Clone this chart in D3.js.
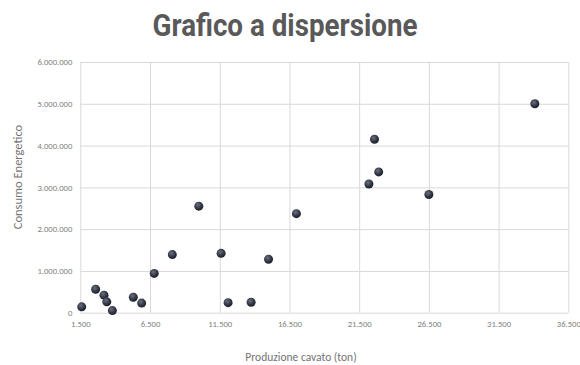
<!DOCTYPE html>
<html>
<head>
<meta charset="utf-8">
<script src="https://cdn.jsdelivr.net/npm/d3@7"></script>
<style>
  html, body { margin: 0; padding: 0; background: #ffffff; }
  svg { display: block; }
</style>
</head>
<body>
<svg id="chart" width="580" height="365"></svg>
<script>
// Produzione cavato (ton) per ciascuna cava
const produzione = [1600, 2600, 3200, 3400, 3800, 5300, 5900, 6800, 8100, 10000,
                    11600, 12100, 13750, 15000, 17000, 22200, 22600, 22900, 26500, 34100];
// Consumo energetico corrispondente
const consumo = [140000, 560000, 420000, 260000, 50000, 370000, 230000, 940000, 1390000, 2550000,
                 1420000, 240000, 250000, 1280000, 2370000, 3080000, 4150000, 3370000, 2830000, 5000000];
// Valori delle tacche degli assi
const xTicks = [1500, 6500, 11500, 16500, 21500, 26500, 31500, 36500];
const yTicks = [0, 1000000, 2000000, 3000000, 4000000, 5000000, 6000000];

const titolo = "Grafico a dispersione";
const titoloX = "Produzione cavato (ton)";
const titoloY = "Consumo Energetico";

const svg = d3.select("#chart");
const plot = { left: 80.3, right: 568.3, top: 62, bottom: 312.7 };

const x = d3.scaleLinear().domain([1500, 36500]).range([plot.left, plot.right]);
const y = d3.scaleLinear().domain([0, 6000000]).range([plot.bottom, plot.top]);

// Formato italiano: punto come separatore delle migliaia
const it = d3.formatLocale({ decimal: ",", thousands: ".", grouping: [3], currency: ["€", ""] });
const fmt = it.format(",d");

const gridColor = "#d9d9d9";
const labelColor = "#808080";
const fontFam = "Calibri, Carlito, 'Open Sans', 'Noto Sans', sans-serif";

// Griglia orizzontale
svg.append("g")
  .attr("transform", `translate(${plot.left},0)`)
  .call(d3.axisLeft(y).tickValues(yTicks).tickSize(-(plot.right - plot.left)).tickFormat(fmt).tickPadding(8))
  .call(g => g.select(".domain").remove())
  .call(g => g.selectAll(".tick line").attr("stroke", gridColor).attr("stroke-width", 1))
  .call(g => g.selectAll(".tick text").attr("fill", labelColor).style("font-family", fontFam).style("font-size", "8.6px"));

// Griglia verticale
svg.append("g")
  .attr("transform", `translate(0,${plot.bottom})`)
  .call(d3.axisBottom(x).tickValues(xTicks).tickSize(-(plot.bottom - plot.top)).tickFormat(fmt).tickPadding(8))
  .call(g => g.select(".domain").remove())
  .call(g => g.selectAll(".tick line").attr("stroke", gridColor).attr("stroke-width", 1))
  .call(g => g.selectAll(".tick text").attr("fill", labelColor).style("font-family", fontFam).style("font-size", "8.6px"));

// Sfumatura dei punti
const defs = svg.append("defs");
const grad = defs.append("radialGradient").attr("id", "dot").attr("cx", "40%").attr("cy", "35%").attr("r", "65%");
grad.append("stop").attr("offset", "0%").attr("stop-color", "#6b7080");
grad.append("stop").attr("offset", "60%").attr("stop-color", "#343846");
grad.append("stop").attr("offset", "100%").attr("stop-color", "#1c1f29");

const punti = produzione.map((p, i) => ({ p, c: consumo[i] }));
svg.append("g").selectAll("circle")
  .data(punti)
  .join("circle")
  .attr("cx", d => x(d.p))
  .attr("cy", d => y(d.c))
  .attr("r", 4.5)
  .attr("fill", "url(#dot)");

// Titolo
svg.append("text")
  .attr("x", 285).attr("y", 36)
  .attr("text-anchor", "middle")
  .attr("textLength", 265).attr("lengthAdjust", "spacingAndGlyphs")
  .attr("fill", "#595959")
  .style("font-family", "Roboto, 'Liberation Sans', sans-serif")
  .style("font-weight", "bold")
  .style("font-size", "31px")
  .text(titolo);

// Titoli degli assi
svg.append("text")
  .attr("x", 301).attr("y", 361)
  .attr("text-anchor", "middle")
  .attr("fill", "#737373")
  .style("font-family", fontFam)
  .style("font-size", "11.5px")
  .text(titoloX);

svg.append("text")
  .attr("transform", "translate(22,177) rotate(-90)")
  .attr("text-anchor", "middle")
  .attr("fill", "#737373")
  .style("font-family", fontFam)
  .style("font-size", "12.5px")
  .text(titoloY);
</script>
</body>
</html>
